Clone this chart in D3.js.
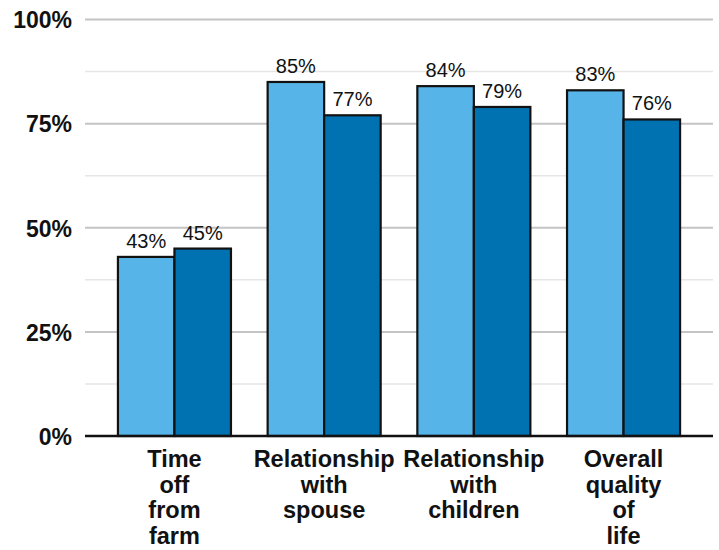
<!DOCTYPE html>
<html>
<head>
<meta charset="utf-8">
<script src="https://cdn.jsdelivr.net/npm/d3@7"></script>
<style>
  html, body { margin: 0; padding: 0; background: #ffffff; }
  svg { display: block; }
  text { font-family: "Liberation Sans", Arial, sans-serif; fill: #111; }
</style>
</head>
<body>
<svg id="chart" width="719" height="550"></svg>
<script>
// Survey results: share reporting each outcome, two response groups
const categories = ["Time off from farm", "Relationship with spouse", "Relationship with children", "Overall quality of life"];
const categoryLines = [["Time", "off", "from", "farm"], ["Relationship", "with", "spouse"], ["Relationship", "with", "children"], ["Overall", "quality", "of", "life"]];
const seriesNames = ["Group A", "Group B"];
const seriesA = [43, 85, 84, 83];
const seriesB = [45, 77, 79, 76];
const seriesColors = ["#56b4e9", "#0072b2"];
const majorTicks = [0, 25, 50, 75, 100];
const minorTicks = [12.5, 37.5, 62.5, 87.5];

const rows = categories.map((c, i) => ({ category: c, lines: categoryLines[i], values: [seriesA[i], seriesB[i]] }));

const svg = d3.select("#chart");
const plot = { left: 85, right: 713, top: 19.5, bottom: 436 };

const x = d3.scaleBand().domain(categories).range([plot.left, plot.right]).paddingInner(0.245).paddingOuter(0.22);
const xs = d3.scaleBand().domain(seriesNames).range([0, x.bandwidth()]).padding(0);
const y = d3.scaleLinear().domain([0, 100]).range([plot.bottom, plot.top]);

// gridlines
svg.append("g").selectAll("line").data(minorTicks).join("line")
  .attr("x1", plot.left).attr("x2", plot.right)
  .attr("y1", d => y(d)).attr("y2", d => y(d))
  .attr("stroke", "#e6e6e6").attr("stroke-width", 1.5);
svg.append("g").selectAll("line").data(majorTicks.filter(d => d > 0)).join("line")
  .attr("x1", plot.left).attr("x2", plot.right)
  .attr("y1", d => y(d)).attr("y2", d => y(d))
  .attr("stroke", "#c4c4c4").attr("stroke-width", 2);

// y axis labels
const yAxis = d3.axisLeft(y).tickValues(majorTicks).tickFormat(d => d + "%").tickSize(0).tickPadding(0);
const yg = svg.append("g").attr("transform", "translate(72,0)").call(yAxis);
yg.select(".domain").remove();
yg.selectAll("text")
  .attr("font-size", 23).attr("font-weight", "bold")
  .attr("font-family", "'Liberation Sans', Arial, sans-serif")
  .attr("fill", "#111").attr("dy", "0.36em");

// bars
const groups = svg.append("g").selectAll("g").data(rows).join("g")
  .attr("transform", d => `translate(${x(d.category)},0)`);

groups.selectAll("rect").data(d => d.values.map((v, j) => ({ v, s: seriesNames[j], j }))).join("rect")
  .attr("x", d => xs(d.s))
  .attr("y", d => y(d.v))
  .attr("width", xs.bandwidth())
  .attr("height", d => y(0) - y(d.v))
  .attr("fill", d => seriesColors[d.j])
  .attr("stroke", "#111").attr("stroke-width", 2.2);

groups.selectAll("text.val").data(d => d.values.map((v, j) => ({ v, s: seriesNames[j] }))).join("text")
  .attr("class", "val")
  .attr("x", d => xs(d.s) + xs.bandwidth() / 2)
  .attr("y", d => y(d.v) - 9)
  .attr("text-anchor", "middle")
  .attr("font-size", 20)
  .text(d => d.v + "%");

// baseline
svg.append("line")
  .attr("x1", plot.left).attr("x2", plot.right)
  .attr("y1", y(0)).attr("y2", y(0))
  .attr("stroke", "#111").attr("stroke-width", 2.5);

// category labels
const xg = svg.append("g").selectAll("text").data(rows).join("text")
  .attr("x", d => x(d.category) + x.bandwidth() / 2)
  .attr("y", 467)
  .attr("text-anchor", "middle")
  .attr("font-size", 23.5).attr("font-weight", "bold");
xg.selectAll("tspan").data(d => d.lines.map(l => ({ l, cx: x(d.category) + x.bandwidth() / 2 }))).join("tspan")
  .attr("x", d => d.cx)
  .attr("dy", (d, i) => i === 0 ? 0 : 25.5)
  .text(d => d.l);
</script>
</body>
</html>
